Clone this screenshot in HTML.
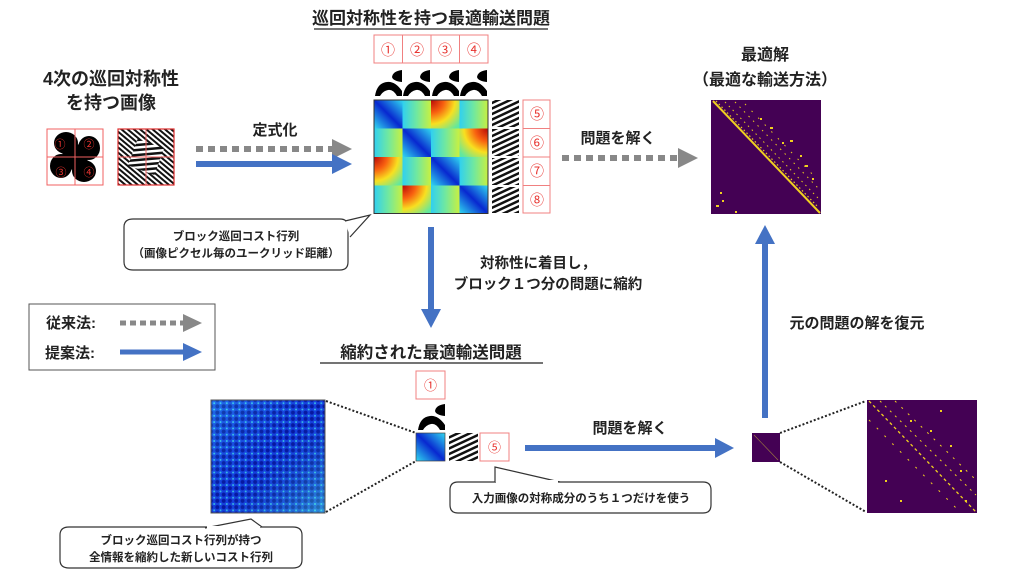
<!DOCTYPE html>
<html><head><meta charset="utf-8"><style>
html,body{margin:0;padding:0;background:#fff;width:1024px;height:574px;overflow:hidden}
svg{display:block}
text{font-family:"Liberation Sans","Noto Sans CJK JP",sans-serif;fill:#222;font-weight:bold}
.r{fill:#e8332f;font-weight:normal}
</style></head><body>
<svg width="1024" height="574" viewBox="0 0 1024 574" xmlns="http://www.w3.org/2000/svg">
<defs>
<linearGradient id="gB" x1="1" y1="0" x2="0" y2="1"><stop offset="0" stop-color="#30d8f0"/><stop offset="0.5" stop-color="#0828d0"/><stop offset="1" stop-color="#30d8f0"/></linearGradient>
<linearGradient id="gG" x1="0" y1="0" x2="1" y2="0"><stop offset="0" stop-color="#30d0f0"/><stop offset="0.5" stop-color="#70e8a0"/><stop offset="1" stop-color="#c8f040"/></linearGradient>
<radialGradient id="gR" cx="0" cy="0" r="1.3"><stop offset="0" stop-color="#b80808"/><stop offset="0.35" stop-color="#f86010"/><stop offset="0.65" stop-color="#f8e020"/><stop offset="1" stop-color="#60e8a0"/></radialGradient>
<radialGradient id="gR2" cx="1" cy="0" r="1.3"><stop offset="0" stop-color="#b80808"/><stop offset="0.35" stop-color="#f86010"/><stop offset="0.65" stop-color="#f8e020"/><stop offset="1" stop-color="#60e8a0"/></radialGradient>
<pattern id="st" width="5" height="5" patternUnits="userSpaceOnUse" patternTransform="rotate(-25)"><rect width="5" height="5" fill="#fff"/><rect width="5" height="2.5" fill="#111"/></pattern>
<pattern id="st2" width="4" height="4" patternUnits="userSpaceOnUse" patternTransform="rotate(40)"><rect width="4" height="4" fill="#fff"/><rect width="4" height="2" fill="#111"/></pattern>
<pattern id="dots" width="6.3" height="6.3" patternUnits="userSpaceOnUse"><rect width="6.3" height="6.3" fill="#1848e8"/><circle cx="3.15" cy="3.15" r="2" fill="#0818a0"/><circle cx="0" cy="0" r="1" fill="#40d8f0"/><circle cx="6.3" cy="0" r="1" fill="#40d8f0"/><circle cx="0" cy="6.3" r="1" fill="#40d8f0"/><circle cx="6.3" cy="6.3" r="1" fill="#40d8f0"/></pattern>
<linearGradient id="gOv" x1="0" y1="0" x2="1" y2="1"><stop offset="0" stop-color="#40e0f0" stop-opacity="0.25"/><stop offset="0.5" stop-color="#0010a0" stop-opacity="0.15"/><stop offset="1" stop-color="#50f0d0" stop-opacity="0.45"/></linearGradient>
<g id="blob"><path d="M0,27 Q2,14 12,13 Q20,12 27,22 L27,27 L22,27 Q18,20 13,21 Q8,22 5,27 Z" fill="#000"/><path d="M27,1 Q18,2 17,8 Q18,12 27,13 Z" fill="#000"/></g>
</defs>

<text x="431" y="24" font-size="17" text-anchor="middle">巡回対称性を持つ最適輸送問題</text>
<line x1="314" y1="29" x2="548" y2="29" stroke="#222" stroke-width="1.3"/>

<g fill="none" stroke="#f08080" stroke-width="1">
<rect x="374" y="35" width="114" height="28"/>
<line x1="402.5" y1="35" x2="402.5" y2="63"/><line x1="431" y1="35" x2="431" y2="63"/><line x1="459.5" y1="35" x2="459.5" y2="63"/>
<rect x="523" y="100" width="27" height="113"/>
<line x1="523" y1="128.5" x2="550" y2="128.5"/><line x1="523" y1="157" x2="550" y2="157"/><line x1="523" y1="185.5" x2="550" y2="185.5"/>
</g>
<g font-size="14" text-anchor="middle">
<text class="r" x="388" y="55">①</text><text class="r" x="417" y="55">②</text><text class="r" x="445" y="55">③</text><text class="r" x="474" y="55">④</text>
<text class="r" x="537" y="119">⑤</text><text class="r" x="537" y="148">⑥</text><text class="r" x="537" y="176">⑦</text><text class="r" x="537" y="205">⑧</text>
</g>
<use href="#blob" x="375" y="69"/><use href="#blob" x="403" y="69"/><use href="#blob" x="432" y="69"/><use href="#blob" x="460" y="69"/>

<g>
<rect x="374" y="100" width="28.5" height="28.5" fill="url(#gB)"/><rect x="402.5" y="100" width="28.5" height="28.5" fill="url(#gG)"/><rect x="431" y="100" width="28.5" height="28.5" fill="url(#gR)"/><rect x="459.5" y="100" width="28.5" height="28.5" fill="url(#gG)"/>
<rect x="374" y="128.5" width="28.5" height="28.5" fill="url(#gG)"/><rect x="402.5" y="128.5" width="28.5" height="28.5" fill="url(#gB)"/><rect x="431" y="128.5" width="28.5" height="28.5" fill="url(#gG)"/><rect x="459.5" y="128.5" width="28.5" height="28.5" fill="url(#gR2)"/>
<rect x="374" y="157" width="28.5" height="28.5" fill="url(#gR)"/><rect x="402.5" y="157" width="28.5" height="28.5" fill="url(#gG)"/><rect x="431" y="157" width="28.5" height="28.5" fill="url(#gB)"/><rect x="459.5" y="157" width="28.5" height="28.5" fill="url(#gG)"/>
<rect x="374" y="185.5" width="28.5" height="28" fill="url(#gG)"/><rect x="402.5" y="185.5" width="28.5" height="28" fill="url(#gR)"/><rect x="431" y="185.5" width="28.5" height="28" fill="url(#gG)"/><rect x="459.5" y="185.5" width="28.5" height="28" fill="url(#gB)"/>
<rect x="374" y="100" width="114" height="113.5" fill="none" stroke="#333" stroke-width="1"/>
</g>
<rect x="492" y="100" width="27" height="27" fill="url(#st)"/><rect x="492" y="129" width="27" height="27" fill="url(#st)"/><rect x="492" y="158" width="27" height="27" fill="url(#st)"/><rect x="492" y="187" width="27" height="26" fill="url(#st)"/>

<text x="111" y="85" font-size="18" text-anchor="middle">4次の巡回対称性</text>
<text x="111" y="109" font-size="18" text-anchor="middle">を持つ画像</text>
<g>
<g fill="#000">
<circle cx="75" cy="157" r="13"/>
<ellipse cx="66" cy="143" rx="12" ry="11"/><ellipse cx="89" cy="148" rx="11" ry="12"/>
<ellipse cx="61" cy="166" rx="11" ry="12"/><ellipse cx="84" cy="171" rx="12" ry="11"/>
</g>
<rect x="47" y="129" width="56" height="56" fill="none" stroke="#f06060" stroke-width="1"/>
<line x1="75" y1="129" x2="75" y2="185" stroke="#f06060"/><line x1="47" y1="157" x2="103" y2="157" stroke="#f06060"/>
<g font-size="11" text-anchor="middle"><text class="r" x="60" y="148">①</text><text class="r" x="89" y="148">②</text><text class="r" x="61" y="176">③</text><text class="r" x="89" y="176">④</text></g>
</g>
<g>
<rect x="118" y="129" width="56" height="56" fill="url(#st2)"/>
<rect x="132" y="143" width="28" height="28" fill="url(#st)" transform="rotate(20 146 157)"/>
<rect x="118" y="129" width="56" height="56" fill="none" stroke="#e03030" stroke-width="1.2"/>
<line x1="146" y1="129" x2="146" y2="185" stroke="#f06060"/><line x1="118" y1="157" x2="174" y2="157" stroke="#f06060"/>
</g>

<text x="275" y="135" font-size="15" text-anchor="middle">定式化</text>
<line x1="196" y1="149" x2="332" y2="149" stroke="#888" stroke-width="6" stroke-dasharray="7,5"/>
<polygon points="332,139 352,149 332,159" fill="#888"/>
<line x1="196" y1="164" x2="332" y2="164" stroke="#4472c4" stroke-width="6"/>
<polygon points="332,154 352,164 332,174" fill="#4472c4"/>

<path d="M133,219 L340,219 Q348,219 348,227 L348,262 Q348,270 340,270 L133,270 Q124,270 124,262 L124,227 Q124,219 133,219 Z" fill="#fff" stroke="#333" stroke-width="1.2"/>
<path d="M345,221 L370,215 L350,237" fill="#fff" stroke="#333" stroke-width="1.2"/>
<rect x="343" y="222" width="4" height="14" fill="#fff"/>
<text x="236" y="240" font-size="11.5" text-anchor="middle">ブロック巡回コスト行列</text>
<text x="236" y="257" font-size="11.5" text-anchor="middle">（画像ピクセル毎のユークリッド距離）</text>

<text x="618" y="143" font-size="15" text-anchor="middle">問題を解く</text>
<line x1="562" y1="158" x2="678" y2="158" stroke="#888" stroke-width="6" stroke-dasharray="7,5"/>
<polygon points="678,148 698,158 678,168" fill="#888"/>

<text x="765" y="60" font-size="16" text-anchor="middle">最適解</text>
<text x="765" y="85" font-size="16" text-anchor="middle">（最適な輸送方法）</text>
<rect x="711" y="100" width="110" height="114" fill="#440154"/>
<line x1="713" y1="101" x2="820" y2="213" stroke="#f0d020" stroke-width="2"/>
<g stroke="#e8c820" fill="none">
<line x1="716" y1="101" x2="818" y2="207" stroke-width="1.2" stroke-dasharray="1.5,2.5"/>
<line x1="725" y1="102" x2="818" y2="198" stroke-width="1" stroke-dasharray="1.5,4"/>
<line x1="735" y1="102" x2="818" y2="188" stroke-width="1" stroke-dasharray="1.5,5"/>
<line x1="745" y1="104" x2="816" y2="178" stroke-width="1" stroke-dasharray="1.5,8"/>
</g>
<g fill="#f0d020">
<rect x="760" y="118" width="2" height="2"/><rect x="770" y="127" width="3" height="2"/><rect x="782" y="142" width="2" height="2"/><rect x="790" y="140" width="3" height="2"/><rect x="800" y="155" width="2" height="2"/><rect x="805" y="165" width="3" height="2"/><rect x="812" y="178" width="2" height="2"/><rect x="720" y="192" width="2" height="2"/><rect x="716" y="205" width="3" height="2"/><rect x="735" y="211" width="2" height="2"/><rect x="722" y="200" width="2" height="2"/>
</g>

<line x1="431" y1="227" x2="431" y2="310" stroke="#4472c4" stroke-width="6"/>
<polygon points="421,309 441,309 431,328" fill="#4472c4"/>
<text x="538" y="268" font-size="14.5" text-anchor="middle">対称性に着目し，</text>
<text x="548" y="289" font-size="14.5" text-anchor="middle">ブロック１つ分の問題に縮約</text>

<rect x="29" y="304" width="186" height="66" fill="#fff" stroke="#555" stroke-width="1"/>
<text x="46" y="328" font-size="15">従来法:</text>
<text x="45" y="358" font-size="15">提案法:</text>
<line x1="120" y1="323" x2="184" y2="323" stroke="#888" stroke-width="5" stroke-dasharray="6,4"/>
<polygon points="183,314 202,323 183,332" fill="#888"/>
<line x1="120" y1="352" x2="184" y2="352" stroke="#4472c4" stroke-width="5"/>
<polygon points="183,343 202,352 183,361" fill="#4472c4"/>

<text x="431" y="358" font-size="16.5" text-anchor="middle">縮約された最適輸送問題</text>
<line x1="320" y1="363" x2="543" y2="363" stroke="#222" stroke-width="1.3"/>

<rect x="416" y="371" width="29" height="28" fill="none" stroke="#f08080"/>
<text class="r" x="430.5" y="390" font-size="13" text-anchor="middle">①</text>
<use href="#blob" x="418" y="403"/>
<rect x="416" y="433" width="29" height="28" fill="url(#gB)" stroke="#444" stroke-width="0.7"/>
<rect x="449" y="433" width="29" height="28" fill="url(#st)"/>
<rect x="480" y="433" width="29" height="28" fill="none" stroke="#f08080"/>
<text class="r" x="494.5" y="452" font-size="13" text-anchor="middle">⑤</text>

<rect x="211" y="400" width="114" height="113" fill="url(#dots)"/>
<rect x="211" y="400" width="114" height="113" fill="url(#gOv)"/>
<rect x="211" y="400" width="114" height="113" fill="none" stroke="#555" stroke-width="1"/>
<line x1="326" y1="401" x2="416" y2="433" stroke="#222" stroke-width="2" stroke-dasharray="2,2"/>
<line x1="326" y1="512" x2="416" y2="461" stroke="#222" stroke-width="2" stroke-dasharray="2,2"/>

<path d="M69,527 L293,527 Q302,527 302,535 L302,560 Q302,568 293,568 L69,568 Q60,568 60,560 L60,535 Q60,527 69,527 Z" fill="#fff" stroke="#333" stroke-width="1.2"/>
<path d="M205,528 L251,519 L262,527" fill="#fff" stroke="#333" stroke-width="1.2"/>
<rect x="207" y="526" width="53" height="3" fill="#fff"/>
<text x="181" y="544" font-size="11.5" text-anchor="middle">ブロック巡回コスト行列が持つ</text>
<text x="181" y="561" font-size="11.5" text-anchor="middle">全情報を縮約した新しいコスト行列</text>

<path d="M458,482 L703,482 Q711,482 711,490 L711,505 Q711,513 703,513 L458,513 Q450,513 450,505 L450,490 Q450,482 458,482 Z" fill="#fff" stroke="#333" stroke-width="1.2"/>
<path d="M495,482 L495,467 L560,482" fill="#fff" stroke="#333" stroke-width="1.2"/>
<rect x="496" y="480" width="62" height="3" fill="#fff"/>
<text x="581" y="502" font-size="11.5" text-anchor="middle">入力画像の対称成分のうち１つだけを使う</text>

<text x="630" y="433" font-size="15" text-anchor="middle">問題を解く</text>
<line x1="525" y1="448" x2="716" y2="448" stroke="#4472c4" stroke-width="6"/>
<polygon points="715,438 734,448 715,458" fill="#4472c4"/>
<rect x="752" y="433" width="28" height="29" fill="#440154"/>
<line x1="754" y1="435" x2="778" y2="460" stroke="#a08040" stroke-width="0.6"/>

<line x1="765" y1="242" x2="765" y2="418" stroke="#4472c4" stroke-width="6"/>
<polygon points="755,244 775,244 765,225" fill="#4472c4"/>
<text x="857" y="328" font-size="15" text-anchor="middle">元の問題の解を復元</text>

<rect x="867" y="400" width="110" height="113" fill="#440154"/>
<line x1="869" y1="401" x2="976" y2="512" stroke="#f0d020" stroke-width="1.3" stroke-dasharray="3,3"/>
<line x1="880" y1="401" x2="976" y2="495" stroke="#f0d020" stroke-width="1" stroke-dasharray="2,5"/>
<line x1="895" y1="401" x2="976" y2="480" stroke="#f0d020" stroke-width="1" stroke-dasharray="2,7"/>
<line x1="869" y1="420" x2="960" y2="512" stroke="#f0d020" stroke-width="1" stroke-dasharray="2,9"/>
<g fill="#f0d020"><rect x="910" y="420" width="2" height="2"/><rect x="930" y="430" width="2" height="2"/><rect x="950" y="445" width="2" height="2"/><rect x="960" y="470" width="2" height="2"/><rect x="900" y="500" width="2" height="2"/><rect x="885" y="480" width="2" height="2"/><rect x="940" y="410" width="2" height="2"/><rect x="965" y="500" width="2" height="2"/></g>
<line x1="780" y1="433" x2="866" y2="401" stroke="#222" stroke-width="2" stroke-dasharray="2,2"/>
<line x1="780" y1="462" x2="866" y2="512" stroke="#222" stroke-width="2" stroke-dasharray="2,2"/>
</svg>
</body></html>
